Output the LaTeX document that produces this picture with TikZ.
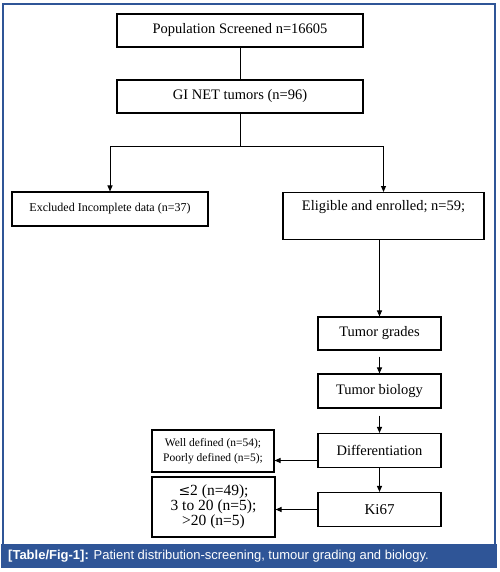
\documentclass[tikz,border=0pt]{standalone}
\usepackage{fontspec}
\setmainfont{Liberation Serif}
\newfontfamily\capfont{Liberation Sans}
\newfontfamily\symfont{DejaVu Serif}
\usetikzlibrary{arrows.meta}
\definecolor{frameblue}{HTML}{2F5597}
\begin{document}
\begin{tikzpicture}[x=1pt,y=-1pt,
  box/.style={draw=black, line width=1.1pt, rectangle, inner sep=0pt, align=center, font=\fontsize{14.5}{15}\selectfont},
  smallbox/.style={box, font=\fontsize{11.5}{15}\selectfont},
  arr/.style={draw=black, line width=1pt, -{Triangle[length=6pt,width=5pt]}},
  ln/.style={draw=black, line width=1pt}]
\useasboundingbox (0,0) rectangle (499,572);
% frame and caption band
\draw[frameblue, line width=1.3pt] (3,4) rectangle (495,545);
\fill[frameblue] (1,544) rectangle (497,568);
\node[anchor=west, text=white, inner sep=0pt, font=\capfont\fontsize{13}{15}\selectfont] (cap) at (8,556)
  {{\bfseries [Table/Fig-1]:} Patient distribution-screening, tumour grading and biology.};
% boxes
\node[box, minimum width=246, minimum height=33] (pop) at (240,30.5) {Population Screened n=16605};
\node[box, minimum width=246, minimum height=33] (gi) at (240,96.5) {GI NET tumors (n=96)};
\node[smallbox, font=\fontsize{12}{15}\selectfont, minimum width=196, minimum height=34] (ex) at (110,209) {Excluded Incomplete data (n=37)};
\node[box, minimum width=201, anchor=north, text height=18pt, text depth=29pt] (el) at (383.5,192) {Eligible and enrolled; n=59;};
\node[box, minimum width=123, minimum height=33] (tg) at (379.5,333.5) {Tumor grades};
\node[box, minimum width=123, minimum height=34] (tb) at (379.5,391) {Tumor biology};
\node[box, minimum width=123, minimum height=34] (df) at (379.5,450.5) {Differentiation};
\node[box, minimum width=123, minimum height=34, font=\fontsize{15}{15}\selectfont] (ki) at (379.5,509.5) {Ki67};
\node[smallbox, minimum width=122, minimum height=42] (wd) at (213,451) {Well defined (n=54);\\Poorly defined (n=5);};
\node[box, minimum width=123, minimum height=60, font=\fontsize{15.5}{15}\selectfont] (kr) at (213.5,507) {{\symfont\fontsize{14}{15}\selectfont ≤}2 (n=49);\\3 to 20 (n=5);\\>20 (n=5)};
% connectors
\draw[ln] (pop.south) -- (gi.north);
\coordinate (split) at ([yshift=-33pt]gi.south);
\draw[ln] (gi.south) -- (split);
\draw[ln, line width=1.5pt] (split -| ex.north) -- (split -| el.north);
\draw[arr] (split -| ex.north) -- (ex.north);
\draw[arr] (split -| el.north) -- (el.north);
\draw[arr] (el.south -| tg.north) -- (tg.north);
\draw[arr, shorten <=6pt] (tg.south) -- (tb.north);
\draw[arr, shorten <=7pt] (tb.south) -- (df.north);
\draw[arr] (df.south) -- (ki.north);
\draw[arr] ([yshift=-10pt]df.west) -- ([yshift=-10pt]df.west -| wd.east);
\draw[arr] (ki.west) -- (ki.west -| kr.east);
\end{tikzpicture}
\end{document}
